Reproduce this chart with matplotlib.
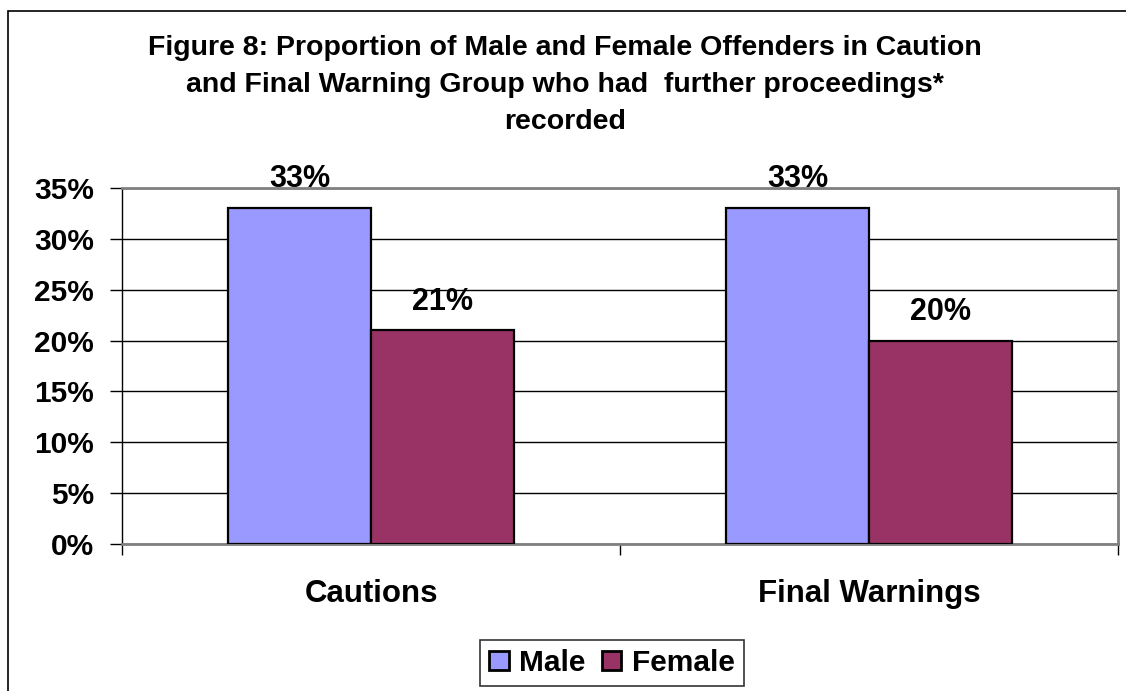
import matplotlib
matplotlib.use('Agg')
import matplotlib.pyplot as plt
import matplotlib.ticker as mticker
from matplotlib.patches import Rectangle
import numpy as np

plt.rcParams['font.family'] = ['Liberation Sans', 'DejaVu Sans']
plt.rcParams['font.weight'] = 'bold'

groups = ['Cautions', 'Final Warnings']
male = [0.33, 0.33]
female = [0.21, 0.20]
series = ['Male', 'Female']
colors = ['#9999FF', '#993366']

title = ('Figure 8: Proportion of Male and Female Offenders in Caution\n'
         'and Final Warning Group who had  further proceedings*\n'
         'recorded')

W, H = 1126, 691
fig = plt.figure(figsize=(W / 100, H / 100), dpi=100)
ax = fig.add_axes([122 / W, 1 - 544 / H, (1118 - 122) / W, (544 - 188) / H])

# outer chart border (only left and top edges fall inside the image)
fig.patches.append(Rectangle((8 / W, -0.2), 1.2, 1 - 11 / H + 0.2,
                             transform=fig.transFigure, fill=False,
                             edgecolor='black', lw=1.2, clip_on=False))

x = np.arange(len(groups))
bw = 0.287
b1 = ax.bar(x - bw / 2, male, bw, color=colors[0], edgecolor='black', lw=1.6,
            label=series[0], zorder=3)
b2 = ax.bar(x + bw / 2, female, bw, color=colors[1], edgecolor='black', lw=1.6,
            label=series[1], zorder=3)

for bars, vals in ((b1, male), (b2, female)):
    for r, v in zip(bars, vals):
        ax.annotate(f'{v:.0%}', (r.get_x() + r.get_width() / 2, v),
                    xytext=(0, 10), textcoords='offset points',
                    ha='center', va='bottom', fontsize=22, fontweight='bold')

ax.set_ylim(0, 0.35)
ax.set_xlim(-0.5, 1.5)
ax.yaxis.set_major_locator(mticker.MultipleLocator(0.05))
ax.yaxis.set_major_formatter(mticker.PercentFormatter(1.0, decimals=0))
ax.grid(axis='y', color='black', lw=1, zorder=0)
ax.set_axisbelow(True)

# category boundaries get the tick marks, names sit in between
ax.set_xticks([-0.5, 0.5, 1.5])
ax.set_xticklabels([])
ax.set_xticks(x, minor=True)
ax.set_xticklabels(groups, minor=True)
ax.tick_params(axis='x', which='major', length=8, width=1, direction='out')
ax.tick_params(axis='x', which='minor', length=0, pad=25, labelsize=22.5)
ax.tick_params(axis='y', length=9, width=1, pad=11, labelsize=21.5)

for s in ('top', 'right', 'bottom'):
    ax.spines[s].set_color('#808080')
    ax.spines[s].set_linewidth(2)
ax.spines['left'].set_color('black')
ax.spines['left'].set_linewidth(1)

fig.text(565 / W, 1 - 35 / H, title, ha='center', va='top',
         multialignment='center', fontsize=20.5, fontweight='bold',
         linespacing=1.54)

leg = fig.legend(loc='center', bbox_to_anchor=(612 / W, 1 - 663 / H), ncol=2,
                 fontsize=21.5, frameon=True, fancybox=False,
                 handlelength=0.65, handleheight=0.65, handletextpad=0.35,
                 columnspacing=0.55, borderpad=0.3, borderaxespad=0)
leg.get_frame().set_edgecolor('black')
leg.get_frame().set_linewidth(1.2)
for p in leg.get_patches():
    p.set_linewidth(2)

fig.savefig('out.png', dpi=100, facecolor='white')
